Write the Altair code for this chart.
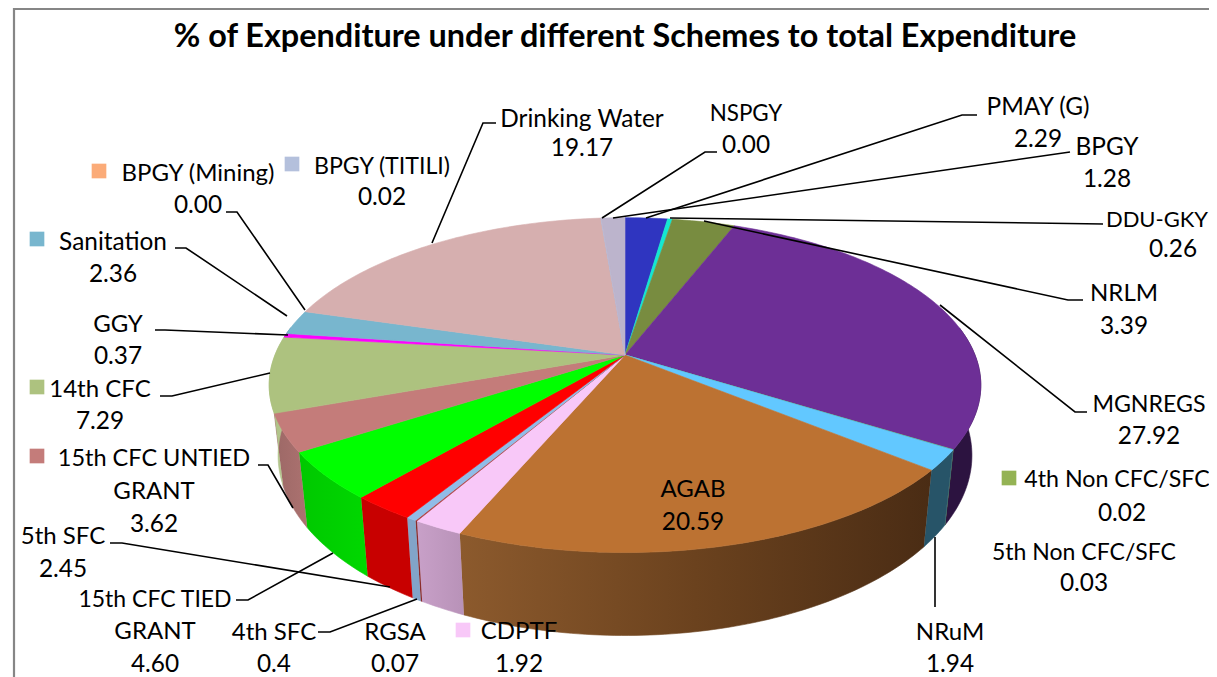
import math
import altair as alt
import pandas as pd

TITLE = "% of Expenditure under different Schemes to total Expenditure"
NAMES = ["PMAY (G)", "DDU-GKY", "NRLM", "MGNREGS", "4th Non CFC/SFC", "5th Non CFC/SFC", "NRuM", "AGAB",
         "CDPTF", "RGSA", "4th SFC", "5th SFC", "15th CFC TIED GRANT", "15th CFC  UNTIED GRANT", "14th CFC",
         "GGY", "Sanitation", "BPGY (Mining)", "Drinking Water", "BPGY (TITILI)", "BPGY", "NSPGY"]
VALUES = [2.29, 0.26, 3.39, 27.92, 0.02, 0.03, 1.94, 20.59,
          1.92, 0.07, 0.4, 2.45, 4.60, 3.62, 7.29,
          0.37, 2.36, 0.00, 19.17, 0.02, 1.28, 0.00]
TOP_COLORS = ["#2f35c0", "#14e8d0", "#788c40", "#6d2f96", "#94b354", "#4bacc6", "#62c8ff", "#bc7232",
              "#f8c8f8", "#b04040", "#90bce8", "#ff0000", "#00ff00", "#c47c7a", "#adc27f",
              "#ff00ff", "#78b6ce", "#fbab78", "#d6afaf", "#b4c0dc", "#bcb4cc", "#808080"]
SIDE_COLORS = ["#20257f", "#0e9a8a", "#50602b", "#2c1340", "#627838", "#327284", "#275468",
               ("#8c5a2d", "#6b421e", "#4a2c14"), ("#c8a0c8", "#b892b8"), "#8a2c2c", "#82a4c8", "#c80000",
               ("#00c800", "#00d800"), ("#9c6866", "#ac7270"), ("#a8bc7c", "#c0cfa0"),
               "#b000b0", "#507a8a", "#a87250", "#8f7575", "#78808f", "#7d788a", "#555555"]

# Label layout in picture pixels: text, centre x, centre y, font size
TEXTS = [
    ("Drinking Water", 582, 120, 24.4), ("19.17", 582, 149, 24.4),
    ("NSPGY", 746, 114, 22.4), ("0.00", 746, 146, 24.4),
    ("PMAY (G)", 1038, 108, 24.4), ("2.29", 1038, 140, 24.4),
    ("BPGY", 1107, 148, 24.4), ("1.28", 1107, 180, 24.4),
    ("DDU-GKY", 1157, 220, 22), ("0.26", 1173, 250, 24.4),
    ("NRLM", 1124, 294, 24), ("3.39", 1124, 327, 24.4),
    ("MGNREGS", 1149, 405, 23.2), ("27.92", 1149, 437, 24.4),
    ("4th Non CFC/SFC", 1117, 480, 23.2), ("0.02", 1122, 514, 24.4),
    ("5th Non CFC/SFC", 1084, 553, 23), ("0.03", 1084, 584, 24.4),
    ("NRuM", 950, 633, 24), ("1.94", 950, 665, 24.4),
    ("AGAB", 693, 490, 24), ("20.59", 693, 523, 24.4),
    ("CDPTF", 519, 632, 24), ("1.92", 519, 665, 24.4),
    ("RGSA", 395, 633, 24), ("0.07", 395, 665, 24.4),
    ("4th SFC", 274, 633, 24), ("0.4", 274, 665, 24.4),
    ("15th CFC TIED", 155, 600, 23), ("GRANT", 155, 632, 24), ("4.60", 155, 665, 24.4),
    ("5th SFC", 63, 537, 24), ("2.45", 63, 570, 24.4),
    ("15th CFC  UNTIED", 154, 459, 23.5), ("GRANT", 154, 492, 24), ("3.62", 154, 525, 24.4),
    ("14th CFC", 100, 390, 24), ("7.29", 100, 422, 24.4),
    ("GGY", 118, 325, 24), ("0.37", 118, 357, 24.4),
    ("Sanitation", 113, 243, 24.4), ("2.36", 113, 275, 24.4),
    ("BPGY (Mining)", 198, 174, 24), ("0.00", 198, 206, 24.4),
    ("BPGY (TITILI)", 382, 167, 23.2), ("0.02", 382, 198, 24.4),
]
KEYS = [("4th Non CFC/SFC", 1009, 478), ("CDPTF", 463, 630), ("15th CFC  UNTIED GRANT", 37, 456),
        ("14th CFC", 37, 387), ("Sanitation", 37, 239), ("BPGY (Mining)", 99, 171), ("BPGY (TITILI)", 292, 164)]
LEADERS = [
    [(496, 123), (483, 123), (432, 243)],
    [(717, 152), (705, 152), (602, 218)],
    [(977, 115), (962, 115), (646, 218)],
    [(1070, 152), (613, 218)],
    [(1103, 224), (670, 218)],
    [(1083, 300), (1068, 300), (704, 221)],
    [(1087, 412), (1075, 412), (940, 305)],
    [(935, 607), (935, 537)],
    [(318, 632), (330, 632), (417, 599)],
    [(110, 543), (122, 543), (390, 587)],
    [(236, 600), (248, 600), (333, 553)],
    [(258, 465), (268, 465), (293, 508)],
    [(160, 396), (172, 396), (270, 373)],
    [(155, 330), (165, 330), (288, 335)],
    [(175, 248), (186, 248), (287, 316)],
    [(226, 212), (237, 212), (305, 310)],
]
FRAME = [(14, 700), (14, 9), (1230, 9)]

# Projection of the tilted pie
CX, CY, A, B, K, DEPTH, TAPER = 625, 355, 350, 162, 0.18, 68, 0.975
W, H = 1201, 669


def top(t):
    u, v = math.sin(t), -math.cos(t)
    w = 1 - K * v
    return CX + A * u / w, CY + B * v / w, w


def bottom(t):
    x, y, w = top(t)
    return CX + (x - CX) * TAPER, y + DEPTH / w


def span(a, b):
    n = max(2, int(abs(b - a) / math.radians(1)) + 1)
    return [a + (b - a) * i / n for i in range(n + 1)]


total = sum(VALUES)
rows, walls, faces = [], [], []
cum = 0.0
for i, val in enumerate(VALUES):
    a0 = cum / total * 2 * math.pi
    cum += val
    a1 = cum / total * 2 * math.pi
    if val <= 0:
        continue
    pts = [(CX, CY)] + [top(t)[:2] for t in span(a0, a1)] + [(CX, CY)]
    fid = f"f{i}"
    rows += [{"pid": fid, "o": j, "x": p[0], "y": p[1]} for j, p in enumerate(pts)]
    faces.append((fid, TOP_COLORS[i]))
    lo, hi = max(a0, math.radians(80)), min(a1, math.radians(280))
    if hi > lo:
        ts = span(lo, hi)
        pts = [top(t)[:2] for t in ts] + [bottom(t) for t in reversed(ts)]
        wid = f"w{i}"
        rows += [{"pid": wid, "o": j, "x": p[0], "y": p[1]} for j, p in enumerate(pts)]
        walls.append((wid, SIDE_COLORS[i]))

for i, ld in enumerate(LEADERS):
    rows += [{"pid": f"l{i}", "o": j, "x": p[0], "y": p[1]} for j, p in enumerate(ld)]
rows += [{"pid": "frame", "o": j, "x": p[0], "y": p[1]} for j, p in enumerate(FRAME)]

poly = pd.DataFrame(rows)
xs = alt.Scale(domain=[8, 8 + W], range=[0, W], nice=False, zero=False)
ys = alt.Scale(domain=[8, 8 + H], range=[0, H], nice=False, zero=False)
X = alt.X("x:Q", scale=xs, axis=None)
Y = alt.Y("y:Q", scale=ys, axis=None)
base = alt.Chart(poly).encode(X, Y, order="o:Q")


def fill_of(c):
    if isinstance(c, tuple):
        step = 1 / (len(c) - 1)
        return alt.Gradient(gradient="linear", x1=0, x2=1, y1=0, y2=0,
                            stops=[alt.GradientStop(offset=k * step, color=s) for k, s in enumerate(c)])
    return c


layers = []
for pid, c in walls + faces:
    f = fill_of(c)
    layers.append(base.transform_filter(alt.datum.pid == pid)
                  .mark_line(fill=f, stroke=f, strokeWidth=0.6, interpolate="linear"))
for i in range(len(LEADERS)):
    layers.append(base.transform_filter(alt.datum.pid == f"l{i}")
                  .mark_line(color="black", strokeWidth=1.6))
layers.append(base.transform_filter(alt.datum.pid == "frame").mark_line(color="#868686", strokeWidth=2.2))

color_of = dict(zip(NAMES, TOP_COLORS))
keys = pd.DataFrame([{"x": x, "y": y, "c": color_of[n]} for n, x, y in KEYS])
layers.append(alt.Chart(keys).mark_square(size=215, opacity=1, filled=True).encode(
    X, Y, color=alt.Color("c:N", scale=None)))

texts = pd.DataFrame([{"t": t, "x": x, "y": y, "s": s} for t, x, y, s in TEXTS])
layers.append(alt.Chart(texts).mark_text(font="Lato", color="black", align="center",
                                         baseline="middle").encode(
    X, Y, text="t:N", size=alt.Size("s:Q", scale=None)))
titledf = pd.DataFrame([{"t": TITLE, "x": 625, "y": 37}])
layers.append(alt.Chart(titledf).mark_text(font="Lato", fontSize=32.4, fontWeight="bold", color="black",
                                           align="center", baseline="middle").encode(X, Y, text="t:N"))

chart = alt.layer(*layers).properties(width=W, height=H, padding=0, background="white",
                                      autosize=alt.AutoSizeParams(type="none")).configure_view(stroke=None)
chart.save("out.html", embed_options={"renderer": "svg", "actions": False})
